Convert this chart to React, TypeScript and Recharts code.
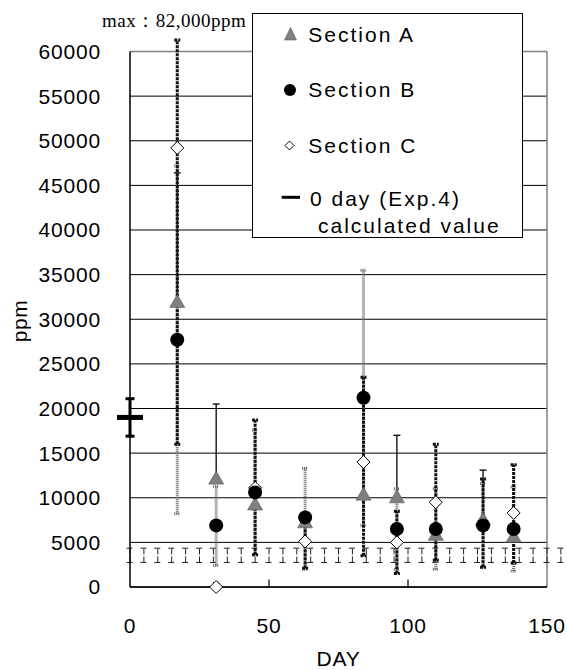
import React from 'react';
import {
  ScatterChart,
  Scatter,
  XAxis,
  YAxis,
  CartesianGrid,
  ErrorBar,
  ReferenceLine,
  Legend,
} from 'recharts';

// ---- data ----
const DAYS = [17, 31, 45, 63, 84, 96, 110, 127, 138];

const A_VALUES = [32000, 12200, 9300, 7300, 10400, 10100, 5900, 7600, 5700];
const A_LOW = [32000, 12200, 9300, 7300, 10400, 10100, 5900, 7600, 5700];
const A_HIGH = [46400, 20500, 9300, 7300, 10400, 17000, 5900, 13100, 5700];

const B_VALUES = [27700, 6900, 10600, 7800, 21200, 6500, 6500, 6900, 6500];
const B_LOW = [8200, 2400, 3600, 2000, 6900, 2000, 2000, 2200, 1800];
const B_HIGH = [47200, 11300, 17600, 13300, 35500, 11000, 11000, 11600, 11200];

const C_VALUES = [49200, 0, 11100, 5100, 14000, 5000, 9500, 7100, 8300];
const C_LOW = [16000, 0, 3600, 2100, 3500, 1500, 3000, 2200, 2700];
const C_HIGH = [82000, 400, 18700, 8100, 23500, 8500, 16000, 12100, 13700];

const DAY0_DAYS = [0];
const DAY0_VALUES = [19000];
const DAY0_LOW = [16900];
const DAY0_HIGH = [21100];

const BAND_DAYS = [
  0, 5, 10, 15, 20, 25, 30, 35, 40, 45, 50, 55, 60, 65, 70, 75,
  80, 85, 90, 95, 100, 105, 110, 115, 120, 125, 130, 135, 140, 145, 150, 155,
];
const BAND_MID = 3550;
const BAND_LOW = 2750;
const BAND_HIGH = 4350;

const X_TICKS = [0, 50, 100, 150];
const Y_TICKS = [0, 5000, 10000, 15000, 20000, 25000, 30000, 35000, 40000, 45000, 50000, 55000, 60000];
const X_INNER_TICKS = [50, 100];
// the chart cuts off error bars a little above its top gridline
const Y_DRAW_LIMIT = 61300;

const LEGEND_LABELS = ['Section A', 'Section B', 'Section C', '0 day (Exp.4)', 'calculated value'];
const MAX_LABEL = 'max：82,000ppm';

// ---- tables built from the arrays ----
const build = (days: number[], vals: number[], low: number[], high: number[]) =>
  days.map((d, i) => ({
    x: d,
    y: vals[i],
    err: [vals[i] - low[i], Math.min(high[i], Y_DRAW_LIMIT) - vals[i]],
  }));

const dataA = build(DAYS, A_VALUES, A_LOW, A_HIGH);
const dataB = build(DAYS, B_VALUES, B_LOW, B_HIGH);
const dataC = build(DAYS, C_VALUES, C_LOW, C_HIGH);
const dataDay0 = build(DAY0_DAYS, DAY0_VALUES, DAY0_LOW, DAY0_HIGH);
const dataBand = BAND_DAYS.map((d) => ({ x: d, y: BAND_MID, err: [BAND_MID - BAND_LOW, BAND_HIGH - BAND_MID] }));

const FONT = '"Liberation Sans", Arial, sans-serif';

const Empty = () => <g />;

const Triangle = (p: any) => {
  const { cx, cy } = p;
  if (cx == null || cy == null) return <g />;
  return (
    <polygon
      points={`${cx},${cy - 7} ${cx - 7.5},${cy + 6} ${cx + 7.5},${cy + 6}`}
      fill="#808080"
      stroke="#555"
      strokeWidth={0.6}
    />
  );
};

const Dot = (p: any) => {
  const { cx, cy } = p;
  if (cx == null || cy == null) return <g />;
  return <circle cx={cx} cy={cy} r={7} fill="#000" />;
};

const Diamond = (p: any) => {
  const { cx, cy } = p;
  if (cx == null || cy == null) return <g />;
  return (
    <polygon
      points={`${cx},${cy - 6.5} ${cx + 6.5},${cy} ${cx},${cy + 6.5} ${cx - 6.5},${cy}`}
      fill="#fff"
      stroke="#000"
      strokeWidth={1}
    />
  );
};

const Bar0 = (p: any) => {
  const { cx, cy } = p;
  if (cx == null || cy == null) return <g />;
  return <rect x={cx - 13} y={cy - 2.5} width={26} height={5} fill="#000" />;
};

const LegendBox = () => {
  const t = { fontFamily: FONT, fontSize: 21, letterSpacing: 2, fill: '#000' } as any;
  return (
    <div
      style={{
        width: 271,
        height: 225,
        boxSizing: 'border-box',
        border: '1px solid #000',
        background: '#fff',
      }}
    >
      <svg width={269} height={223} style={{ display: 'block', overflow: 'visible' }}>
        <polygon points="37.5,13.5 31.5,26 43.5,26" fill="#808080" stroke="#555" strokeWidth={0.6} />
        <text x={55.3} y={27.7} {...t}>{LEGEND_LABELS[0]}</text>
        <circle cx={37} cy={76} r={6} fill="#000" />
        <text x={55.3} y={82.7} {...t}>{LEGEND_LABELS[1]}</text>
        <polygon points="36.5,127 41,131.5 36.5,136 32,131.5" fill="#fff" stroke="#000" strokeWidth={1} />
        <text x={55.3} y={139} {...t}>{LEGEND_LABELS[2]}</text>
        <line x1={28.7} y1={183.3} x2={47} y2={183.3} stroke="#000" strokeWidth={3} />
        <text x={57} y={192} {...t}>{LEGEND_LABELS[3]}</text>
        <text x={65} y={219} {...t}>{LEGEND_LABELS[4]}</text>
      </svg>
    </div>
  );
};

const tickStyle = { fontFamily: FONT, fontSize: 21, fill: '#000', letterSpacing: 0.8 } as any;

export default function App() {
  return (
    <div style={{ position: 'absolute', left: 0, top: 0, width: 567, height: 670, background: '#fff' }}>
      <ScatterChart width={567} height={670} margin={{ top: 51.5, right: 20, bottom: 0, left: 30 }}>
        <CartesianGrid xAxisId="m" yAxisId="m" horizontal vertical={false} stroke="#000" strokeWidth={1} />
        <XAxis
          xAxisId="m"
          type="number"
          dataKey="x"
          domain={[0, 150]}
          ticks={X_TICKS}
          height={83}
          axisLine={{ stroke: '#000', strokeWidth: 1.5 }}
          tickLine={false}
          tickSize={6}
          tickMargin={25}
          tick={tickStyle}
          label={{ value: 'DAY', position: 'insideBottom', offset: 4, style: { fontFamily: FONT, fontSize: 21, fill: '#000', letterSpacing: 0.8 } }}
        />
        <YAxis
          yAxisId="m"
          type="number"
          dataKey="y"
          domain={[0, 60000]}
          ticks={Y_TICKS}
          allowDataOverflow
          width={100}
          axisLine={{ stroke: '#000', strokeWidth: 1.5 }}
          tickLine={false}
          tickSize={6}
          tickMargin={23}
          tick={tickStyle}
        />
        <XAxis xAxisId="b" orientation="top" hide height={0} type="number" dataKey="x" domain={[0, 150]} />
        <YAxis yAxisId="b" orientation="right" hide width={0} type="number" dataKey="y" domain={[0, 60000]} />
        <XAxis
          xAxisId="c"
          orientation="top"
          hide
          height={0}
          type="number"
          dataKey="x"
          domain={[0, 155]}
          padding={{ left: 0, right: -13.9 }}
        />

        <ReferenceLine xAxisId="m" yAxisId="m" y={60000} stroke="#808080" strokeWidth={1.5} />
        <ReferenceLine xAxisId="m" yAxisId="m" x={150} stroke="#808080" strokeWidth={1.5} />
        {X_INNER_TICKS.map((t) => (
          <ReferenceLine
            key={t}
            xAxisId="m"
            yAxisId="m"
            segment={[{ x: t, y: 0 }, { x: t, y: 850 }]}
            stroke="#000"
            strokeWidth={1.2}
          />
        ))}

        {/* band of reference markers */}
        <Scatter xAxisId="c" yAxisId="b" data={dataBand} shape={<Empty />} isAnimationActive={false}>
          <ErrorBar dataKey="err" direction="y" width={3.5} stroke="#222" strokeWidth={1} strokeDasharray="6 2" />
        </Scatter>

        {/* error bars first */}
        <Scatter xAxisId="m" yAxisId="m" data={dataA} shape={<Empty />} isAnimationActive={false}>
          <ErrorBar dataKey="err" direction="y" width={3.5} stroke="#000" strokeWidth={1.3} />
        </Scatter>
        <Scatter xAxisId="m" yAxisId="m" data={dataB} shape={<Empty />} isAnimationActive={false}>
          <ErrorBar dataKey="err" direction="y" width={3} stroke="#6a6a6a" strokeWidth={3} strokeDasharray="1 1" />
        </Scatter>
        <Scatter xAxisId="m" yAxisId="m" data={dataC} shape={<Empty />} isAnimationActive={false}>
          <ErrorBar dataKey="err" direction="y" width={3} stroke="#111" strokeWidth={3} strokeDasharray="3 1" />
        </Scatter>

        {/* 0 day calculated value */}
        <Scatter xAxisId="b" yAxisId="b" data={dataDay0} shape={<Bar0 />} isAnimationActive={false}>
          <ErrorBar dataKey="err" direction="y" width={4.5} stroke="#000" strokeWidth={3} />
        </Scatter>

        {/* markers */}
        <Scatter name="Section C" xAxisId="b" yAxisId="b" data={dataC} shape={<Diamond />} isAnimationActive={false} />
        <Scatter name="Section A" xAxisId="b" yAxisId="b" data={dataA} shape={<Triangle />} isAnimationActive={false} />
        <Scatter name="Section B" xAxisId="b" yAxisId="b" data={dataB} shape={<Dot />} isAnimationActive={false} />

        <Legend
          layout="vertical"
          align="center"
          verticalAlign="middle"
          content={() => <LegendBox />}
          wrapperStyle={{ left: 252, top: 13, width: 271, height: 225, right: 'auto', bottom: 'auto' }}
        />
      </ScatterChart>
      <svg
        width={567}
        height={670}
        style={{ position: 'absolute', left: 0, top: 0, pointerEvents: 'none' }}
      >
        <text
          x={102}
          y={27}
          style={{ fontFamily: '"Liberation Serif", serif', fontSize: 19, letterSpacing: 0.5 }}
          fill="#000"
        >
          {MAX_LABEL}
        </text>
        <text
          x={19}
          y={321}
          transform="rotate(-90 19 321)"
          textAnchor="middle"
          dominantBaseline="central"
          style={{ fontFamily: FONT, fontSize: 21, letterSpacing: 0.5 }}
          fill="#000"
        >
          ppm
        </text>
      </svg>
    </div>
  );
}
